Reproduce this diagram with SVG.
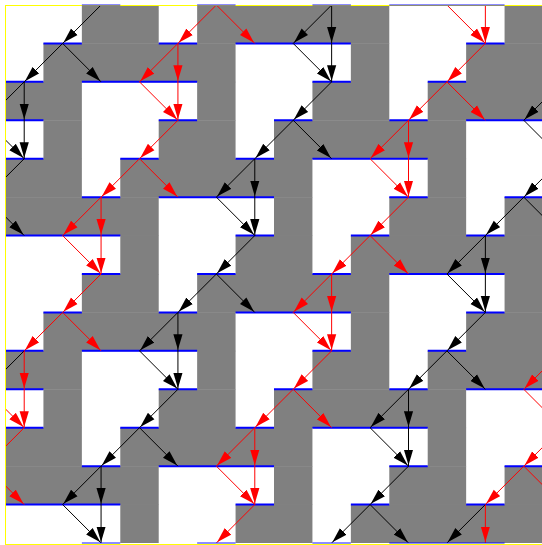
<svg xmlns="http://www.w3.org/2000/svg" xmlns:xlink="http://www.w3.org/1999/xlink" width="542" height="545" viewBox="0 0 542 545">
<style>
.g{fill:#808080}
.b{stroke:#0000ff;stroke-width:2;fill:none}
.bf{stroke:#0000ff;stroke-width:2;fill:none;stroke-opacity:0.45}
.r{stroke:#ff0000;stroke-width:1;marker-end:url(#mr)}
.k{stroke:#000000;stroke-width:1;marker-end:url(#mk)}
</style>
<defs>
<clipPath id="clip"><rect x="5" y="5" width="538" height="538"/></clipPath>
<marker id="mr" markerUnits="userSpaceOnUse" markerWidth="17" markerHeight="10" viewBox="0 0 17 10" refX="16.5" refY="5" orient="auto"><path d="M0,0.4 L15.5,5 L0,9.6 z" fill="#ff0000"/></marker>
<marker id="mk" markerUnits="userSpaceOnUse" markerWidth="17" markerHeight="10" viewBox="0 0 17 10" refX="16.5" refY="5" orient="auto"><path d="M0,0.4 L15.5,5 L0,9.6 z" fill="#000000"/></marker>
<g id="grayA">
<rect class="g" x="81.86" y="5" width="76.86" height="38.83"/>
<rect class="g" x="197.14" y="5" width="192.14" height="38.83"/>
<rect class="g" x="504.57" y="5" width="38.43" height="38.83"/>
<rect class="g" x="43.43" y="43.43" width="192.14" height="38.83"/>
<rect class="g" x="350.86" y="43.43" width="38.43" height="38.83"/>
<rect class="g" x="466.14" y="43.43" width="76.86" height="38.83"/>
<rect class="g" x="5" y="81.86" width="76.86" height="38.83"/>
<rect class="g" x="197.14" y="81.86" width="38.43" height="38.83"/>
<rect class="g" x="312.43" y="81.86" width="76.86" height="38.83"/>
<rect class="g" x="427.71" y="81.86" width="115.29" height="38.83"/>
<rect class="g" x="43.43" y="120.29" width="38.43" height="38.83"/>
<rect class="g" x="158.71" y="120.29" width="76.86" height="38.83"/>
<rect class="g" x="274" y="120.29" width="192.14" height="38.83"/>
<rect class="g" x="5" y="158.71" width="76.86" height="38.83"/>
<rect class="g" x="120.29" y="158.71" width="192.14" height="38.83"/>
<rect class="g" x="427.71" y="158.71" width="38.43" height="38.83"/>
<rect class="g" x="5" y="197.14" width="153.71" height="38.83"/>
<rect class="g" x="274" y="197.14" width="38.43" height="38.83"/>
<rect class="g" x="389.29" y="197.14" width="76.86" height="38.83"/>
<rect class="g" x="504.57" y="197.14" width="38.43" height="38.83"/>
<rect class="g" x="120.29" y="235.57" width="38.43" height="38.83"/>
<rect class="g" x="235.57" y="235.57" width="76.86" height="38.83"/>
<rect class="g" x="350.86" y="235.57" width="192.14" height="38.83"/>
</g>
<path id="blueA" class="b" d="M43.43 43.43H81.86M158.71 43.43H197.14M235.57 43.43H350.86M466.14 43.43H504.57
M5 81.86H43.43M81.86 81.86H197.14M312.43 81.86H350.86M427.71 81.86H466.14
M5 120.29H43.43M158.71 120.29H197.14M274 120.29H312.43M389.29 120.29H427.71M466.14 120.29H543
M5 158.71H43.43M120.29 158.71H158.71M235.57 158.71H274M312.43 158.71H427.71
M81.86 197.14H120.29M158.71 197.14H274M389.29 197.14H427.71M504.57 197.14H543
M5 235.57H120.29M235.57 235.57H274M350.86 235.57H389.29M466.14 235.57H504.57"/>
</defs>
<rect x="0" y="0" width="542" height="545" fill="#ffffff"/>
<g clip-path="url(#clip)">
<g id="tiles">
<use xlink:href="#grayA"/>
<use xlink:href="#grayA" transform="translate(0,269)"/>
</g>
<g id="walls">
<use xlink:href="#blueA"/>
<use xlink:href="#blueA" transform="translate(0,269)"/>
<path class="b" d="M81.86 274H120.29M197.14 274H235.57M312.43 274H350.86M389.29 274H504.57"/>
</g>
<g id="connectors">
<line class="k" x1="101.07" y1="5" x2="62.64" y2="43.43"/>
<line class="k" x1="331.64" y1="5" x2="293.21" y2="43.43"/>
<line class="k" x1="331.64" y1="5" x2="331.64" y2="43.43"/>
<line class="r" x1="216.36" y1="5" x2="177.93" y2="43.43"/>
<line class="r" x1="216.36" y1="5" x2="254.79" y2="43.43"/>
<line class="r" x1="446.93" y1="5" x2="485.36" y2="43.43"/>
<line class="r" x1="485.36" y1="5" x2="485.36" y2="43.43"/>
<line class="k" x1="62.64" y1="43.43" x2="24.21" y2="81.86"/>
<line class="k" x1="62.64" y1="43.43" x2="101.07" y2="81.86"/>
<line class="k" x1="293.21" y1="43.43" x2="331.64" y2="81.86"/>
<line class="k" x1="331.64" y1="43.43" x2="331.64" y2="81.86"/>
<line class="r" x1="177.93" y1="43.43" x2="139.5" y2="81.86"/>
<line class="r" x1="177.93" y1="43.43" x2="177.93" y2="81.86"/>
<line class="r" x1="485.36" y1="43.43" x2="446.93" y2="81.86"/>
<line class="k" x1="24.21" y1="81.86" x2="-14.21" y2="120.29"/>
<line class="k" x1="562.21" y1="81.86" x2="523.79" y2="120.29"/>
<line class="k" x1="24.21" y1="81.86" x2="24.21" y2="120.29"/>
<line class="k" x1="331.64" y1="81.86" x2="293.21" y2="120.29"/>
<line class="r" x1="139.5" y1="81.86" x2="177.93" y2="120.29"/>
<line class="r" x1="177.93" y1="81.86" x2="177.93" y2="120.29"/>
<line class="r" x1="446.93" y1="81.86" x2="408.5" y2="120.29"/>
<line class="r" x1="446.93" y1="81.86" x2="485.36" y2="120.29"/>
<line class="k" x1="24.21" y1="120.29" x2="24.21" y2="158.71"/>
<line class="k" x1="293.21" y1="120.29" x2="254.79" y2="158.71"/>
<line class="k" x1="293.21" y1="120.29" x2="331.64" y2="158.71"/>
<line class="k" x1="523.79" y1="120.29" x2="562.21" y2="158.71"/>
<line class="k" x1="-14.21" y1="120.29" x2="24.21" y2="158.71"/>
<line class="r" x1="177.93" y1="120.29" x2="139.5" y2="158.71"/>
<line class="r" x1="408.5" y1="120.29" x2="370.07" y2="158.71"/>
<line class="r" x1="408.5" y1="120.29" x2="408.5" y2="158.71"/>
<line class="k" x1="24.21" y1="158.71" x2="-14.21" y2="197.14"/>
<line class="k" x1="562.21" y1="158.71" x2="523.79" y2="197.14"/>
<line class="k" x1="254.79" y1="158.71" x2="216.36" y2="197.14"/>
<line class="k" x1="254.79" y1="158.71" x2="254.79" y2="197.14"/>
<line class="r" x1="139.5" y1="158.71" x2="101.07" y2="197.14"/>
<line class="r" x1="139.5" y1="158.71" x2="177.93" y2="197.14"/>
<line class="r" x1="370.07" y1="158.71" x2="408.5" y2="197.14"/>
<line class="r" x1="408.5" y1="158.71" x2="408.5" y2="197.14"/>
<line class="k" x1="216.36" y1="197.14" x2="254.79" y2="235.57"/>
<line class="k" x1="254.79" y1="197.14" x2="254.79" y2="235.57"/>
<line class="k" x1="523.79" y1="197.14" x2="485.36" y2="235.57"/>
<line class="k" x1="523.79" y1="197.14" x2="562.21" y2="235.57"/>
<line class="k" x1="-14.21" y1="197.14" x2="24.21" y2="235.57"/>
<line class="r" x1="101.07" y1="197.14" x2="62.64" y2="235.57"/>
<line class="r" x1="101.07" y1="197.14" x2="101.07" y2="235.57"/>
<line class="r" x1="408.5" y1="197.14" x2="370.07" y2="235.57"/>
<line class="k" x1="254.79" y1="235.57" x2="216.36" y2="274"/>
<line class="k" x1="485.36" y1="235.57" x2="446.93" y2="274"/>
<line class="k" x1="485.36" y1="235.57" x2="485.36" y2="274"/>
<line class="r" x1="62.64" y1="235.57" x2="101.07" y2="274"/>
<line class="r" x1="101.07" y1="235.57" x2="101.07" y2="274"/>
<line class="r" x1="370.07" y1="235.57" x2="331.64" y2="274"/>
<line class="r" x1="370.07" y1="235.57" x2="408.5" y2="274"/>
<line class="k" x1="216.36" y1="274" x2="177.93" y2="312.43"/>
<line class="k" x1="216.36" y1="274" x2="254.79" y2="312.43"/>
<line class="k" x1="446.93" y1="274" x2="485.36" y2="312.43"/>
<line class="k" x1="485.36" y1="274" x2="485.36" y2="312.43"/>
<line class="r" x1="101.07" y1="274" x2="62.64" y2="312.43"/>
<line class="r" x1="331.64" y1="274" x2="293.21" y2="312.43"/>
<line class="r" x1="331.64" y1="274" x2="331.64" y2="312.43"/>
<line class="k" x1="177.93" y1="312.43" x2="139.5" y2="350.86"/>
<line class="k" x1="177.93" y1="312.43" x2="177.93" y2="350.86"/>
<line class="k" x1="485.36" y1="312.43" x2="446.93" y2="350.86"/>
<line class="r" x1="62.64" y1="312.43" x2="24.21" y2="350.86"/>
<line class="r" x1="62.64" y1="312.43" x2="101.07" y2="350.86"/>
<line class="r" x1="293.21" y1="312.43" x2="331.64" y2="350.86"/>
<line class="r" x1="331.64" y1="312.43" x2="331.64" y2="350.86"/>
<line class="k" x1="24.21" y1="350.86" x2="-14.21" y2="389.29"/>
<line class="k" x1="139.5" y1="350.86" x2="177.93" y2="389.29"/>
<line class="k" x1="177.93" y1="350.86" x2="177.93" y2="389.29"/>
<line class="k" x1="446.93" y1="350.86" x2="408.5" y2="389.29"/>
<line class="k" x1="446.93" y1="350.86" x2="485.36" y2="389.29"/>
<line class="r" x1="562.21" y1="350.86" x2="523.79" y2="389.29"/>
<line class="r" x1="24.21" y1="350.86" x2="24.21" y2="389.29"/>
<line class="r" x1="331.64" y1="350.86" x2="293.21" y2="389.29"/>
<line class="k" x1="177.93" y1="389.29" x2="139.5" y2="427.71"/>
<line class="k" x1="408.5" y1="389.29" x2="370.07" y2="427.71"/>
<line class="k" x1="408.5" y1="389.29" x2="408.5" y2="427.71"/>
<line class="r" x1="24.21" y1="389.29" x2="24.21" y2="427.71"/>
<line class="r" x1="293.21" y1="389.29" x2="254.79" y2="427.71"/>
<line class="r" x1="293.21" y1="389.29" x2="331.64" y2="427.71"/>
<line class="r" x1="523.79" y1="389.29" x2="562.21" y2="427.71"/>
<line class="r" x1="-14.21" y1="389.29" x2="24.21" y2="427.71"/>
<line class="k" x1="139.5" y1="427.71" x2="101.07" y2="466.14"/>
<line class="k" x1="139.5" y1="427.71" x2="177.93" y2="466.14"/>
<line class="k" x1="370.07" y1="427.71" x2="408.5" y2="466.14"/>
<line class="k" x1="408.5" y1="427.71" x2="408.5" y2="466.14"/>
<line class="r" x1="24.21" y1="427.71" x2="-14.21" y2="466.14"/>
<line class="r" x1="562.21" y1="427.71" x2="523.79" y2="466.14"/>
<line class="r" x1="254.79" y1="427.71" x2="216.36" y2="466.14"/>
<line class="r" x1="254.79" y1="427.71" x2="254.79" y2="466.14"/>
<line class="k" x1="101.07" y1="466.14" x2="62.64" y2="504.57"/>
<line class="k" x1="101.07" y1="466.14" x2="101.07" y2="504.57"/>
<line class="k" x1="408.5" y1="466.14" x2="370.07" y2="504.57"/>
<line class="r" x1="216.36" y1="466.14" x2="254.79" y2="504.57"/>
<line class="r" x1="254.79" y1="466.14" x2="254.79" y2="504.57"/>
<line class="r" x1="523.79" y1="466.14" x2="485.36" y2="504.57"/>
<line class="r" x1="523.79" y1="466.14" x2="562.21" y2="504.57"/>
<line class="r" x1="-14.21" y1="466.14" x2="24.21" y2="504.57"/>
<line class="k" x1="62.64" y1="504.57" x2="101.07" y2="543"/>
<line class="k" x1="101.07" y1="504.57" x2="101.07" y2="543"/>
<line class="k" x1="370.07" y1="504.57" x2="331.64" y2="543"/>
<line class="k" x1="370.07" y1="504.57" x2="408.5" y2="543"/>
<line class="k" x1="485.36" y1="504.57" x2="446.93" y2="543"/>
<line class="r" x1="254.79" y1="504.57" x2="216.36" y2="543"/>
<line class="r" x1="485.36" y1="504.57" x2="485.36" y2="543"/>
</g>
</g>
<rect x="5.5" y="5.5" width="538" height="539" fill="none" stroke="#ffff00" stroke-width="1"/>
<path class="bf" d="M81.86 5H120.29M197.14 5H235.57M312.43 5H350.86M389.29 5H504.57"/>
<path class="bf" d="M197.14 543H235.57M312.43 543H350.86M81.86 543H120.29M389.29 543H504.57" stroke-opacity="0.25"/>
</svg>
